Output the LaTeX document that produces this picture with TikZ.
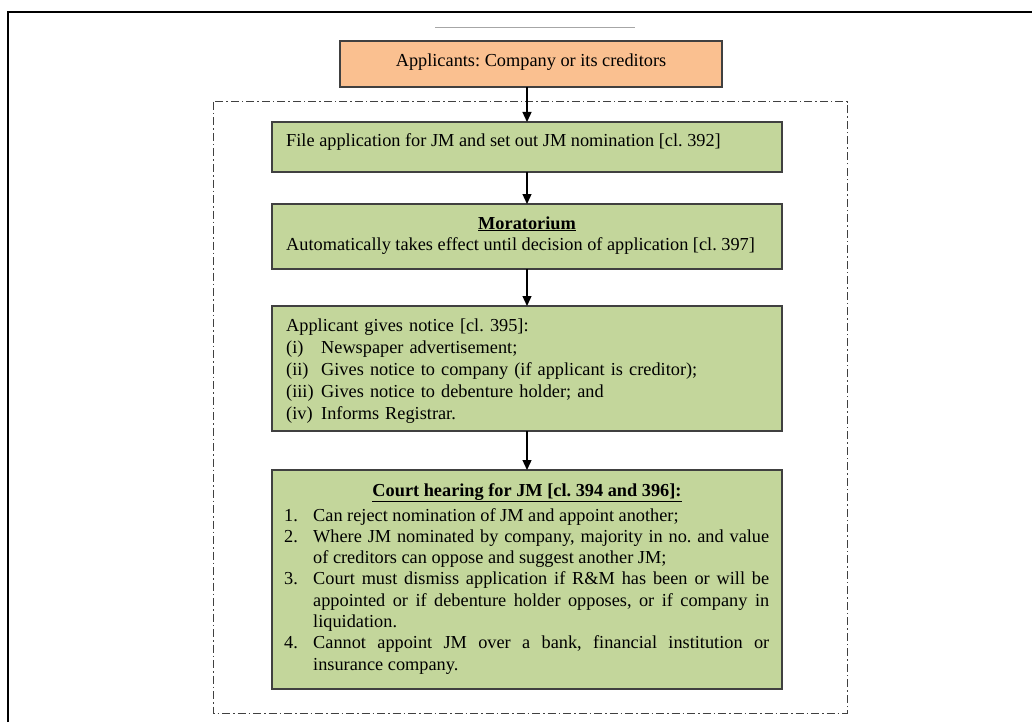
\documentclass[tikz,border=0pt]{standalone}
\usepackage{fontspec}
\setmainfont{Liberation Serif}
\usetikzlibrary{arrows.meta}
\definecolor{boxgreen}{HTML}{C3D69B}
\definecolor{boxorange}{HTML}{FAC090}
\definecolor{edgegray}{HTML}{404040}
\frenchspacing
\begin{document}
\frenchspacing
\begin{tikzpicture}[x=1pt,y=-1pt,
  box/.style={draw=edgegray, line width=1.2pt, fill=boxgreen, inner sep=0pt, outer sep=0pt, anchor=north west},
  obox/.style={box, fill=boxorange},
  txt/.style={inner sep=0pt, anchor=base west, font=\fontsize{18.3pt}{22pt}\selectfont},
  ctxt/.style={inner sep=0pt, anchor=base, font=\fontsize{18.3pt}{22pt}\selectfont},
  arr/.style={line width=1.3pt, -{Triangle[length=10pt,width=9pt]}},
  dashdot/.style={draw=edgegray, line width=1pt, dash pattern=on 8pt off 3pt on 1.5pt off 3pt}]
\useasboundingbox (0,0) rectangle (1032,722);
% outer frame
\draw[black, line width=2.4pt] (8,722) -- (8,12) -- (1032,12);
\draw[gray!70, line width=0.8pt] (435,27) -- (635,27);
% dash-dot frame
\draw[dashdot] (213,102) rectangle (847,713);
% boxes
\node[obox, minimum width=382pt, minimum height=46pt] (b0) at (340,41) {};
\node[box, minimum width=510pt, minimum height=50pt] (b1) at (272,122) {};
\node[box, minimum width=510pt, minimum height=65pt] (b2) at (272,204) {};
\node[box, minimum width=510pt, minimum height=125pt] (b3) at (272,306) {};
\node[box, minimum width=510pt, minimum height=219pt] (b4) at (272,470) {};
% texts
\node[ctxt] (t0) at (531,67) {Applicants: Company or its creditors};
\node[txt] (t1) at (286,147) {File application for JM and set out JM nomination [cl. 392]};
\node[ctxt] (t2a) at (527,229) {\textbf{\underline{Moratorium}}};
\node[txt] (t2b) at (286,250) {Automatically takes effect until decision of application [cl. 397]};
\node[txt, text width=485pt, align=left] (t3) at (286,331) {%
Applicant gives notice [cl. 395]:\\
\makebox[35pt][l]{(i)}Newspaper advertisement;\\
\makebox[35pt][l]{(ii)}Gives notice to company (if applicant is creditor);\\
\makebox[35pt][l]{(iii)}Gives notice to debenture holder; and\\
\makebox[35pt][l]{(iv)}Informs Registrar.};
\node[ctxt] (t4a) at (527,496) {\textbf{\underline{Court hearing for JM [cl. 394 and 396]:}}};
\node[txt, text width=485pt, align=justify, font=\fontsize{18.3pt}{21.3pt}\selectfont] (t4b) at (284,521) {%
\hangindent=29pt\hangafter=1\noindent\makebox[29pt][l]{1.}Can reject nomination of JM and appoint another;\par
\hangindent=29pt\hangafter=1\noindent\makebox[29pt][l]{2.}Where JM nominated by company, majority in no. and value\linebreak of creditors can oppose and suggest another JM;\par
\hangindent=29pt\hangafter=1\noindent\makebox[29pt][l]{3.}Court must dismiss application if R\&M has been or will be\linebreak appointed or if debenture holder opposes, or if company in\linebreak liquidation.\par
\hangindent=29pt\hangafter=1\noindent\makebox[29pt][l]{4.}Cannot appoint JM over a bank, financial institution or\linebreak insurance company.\par};
% connectors
\draw[arr] (b1.north |- b0.south) -- (b1.north);
\draw[arr] (b1.south) -- (b2.north);
\draw[arr] (b2.south) -- (b3.north);
\draw[arr] (b3.south) -- (b4.north);
\end{tikzpicture}
\end{document}
